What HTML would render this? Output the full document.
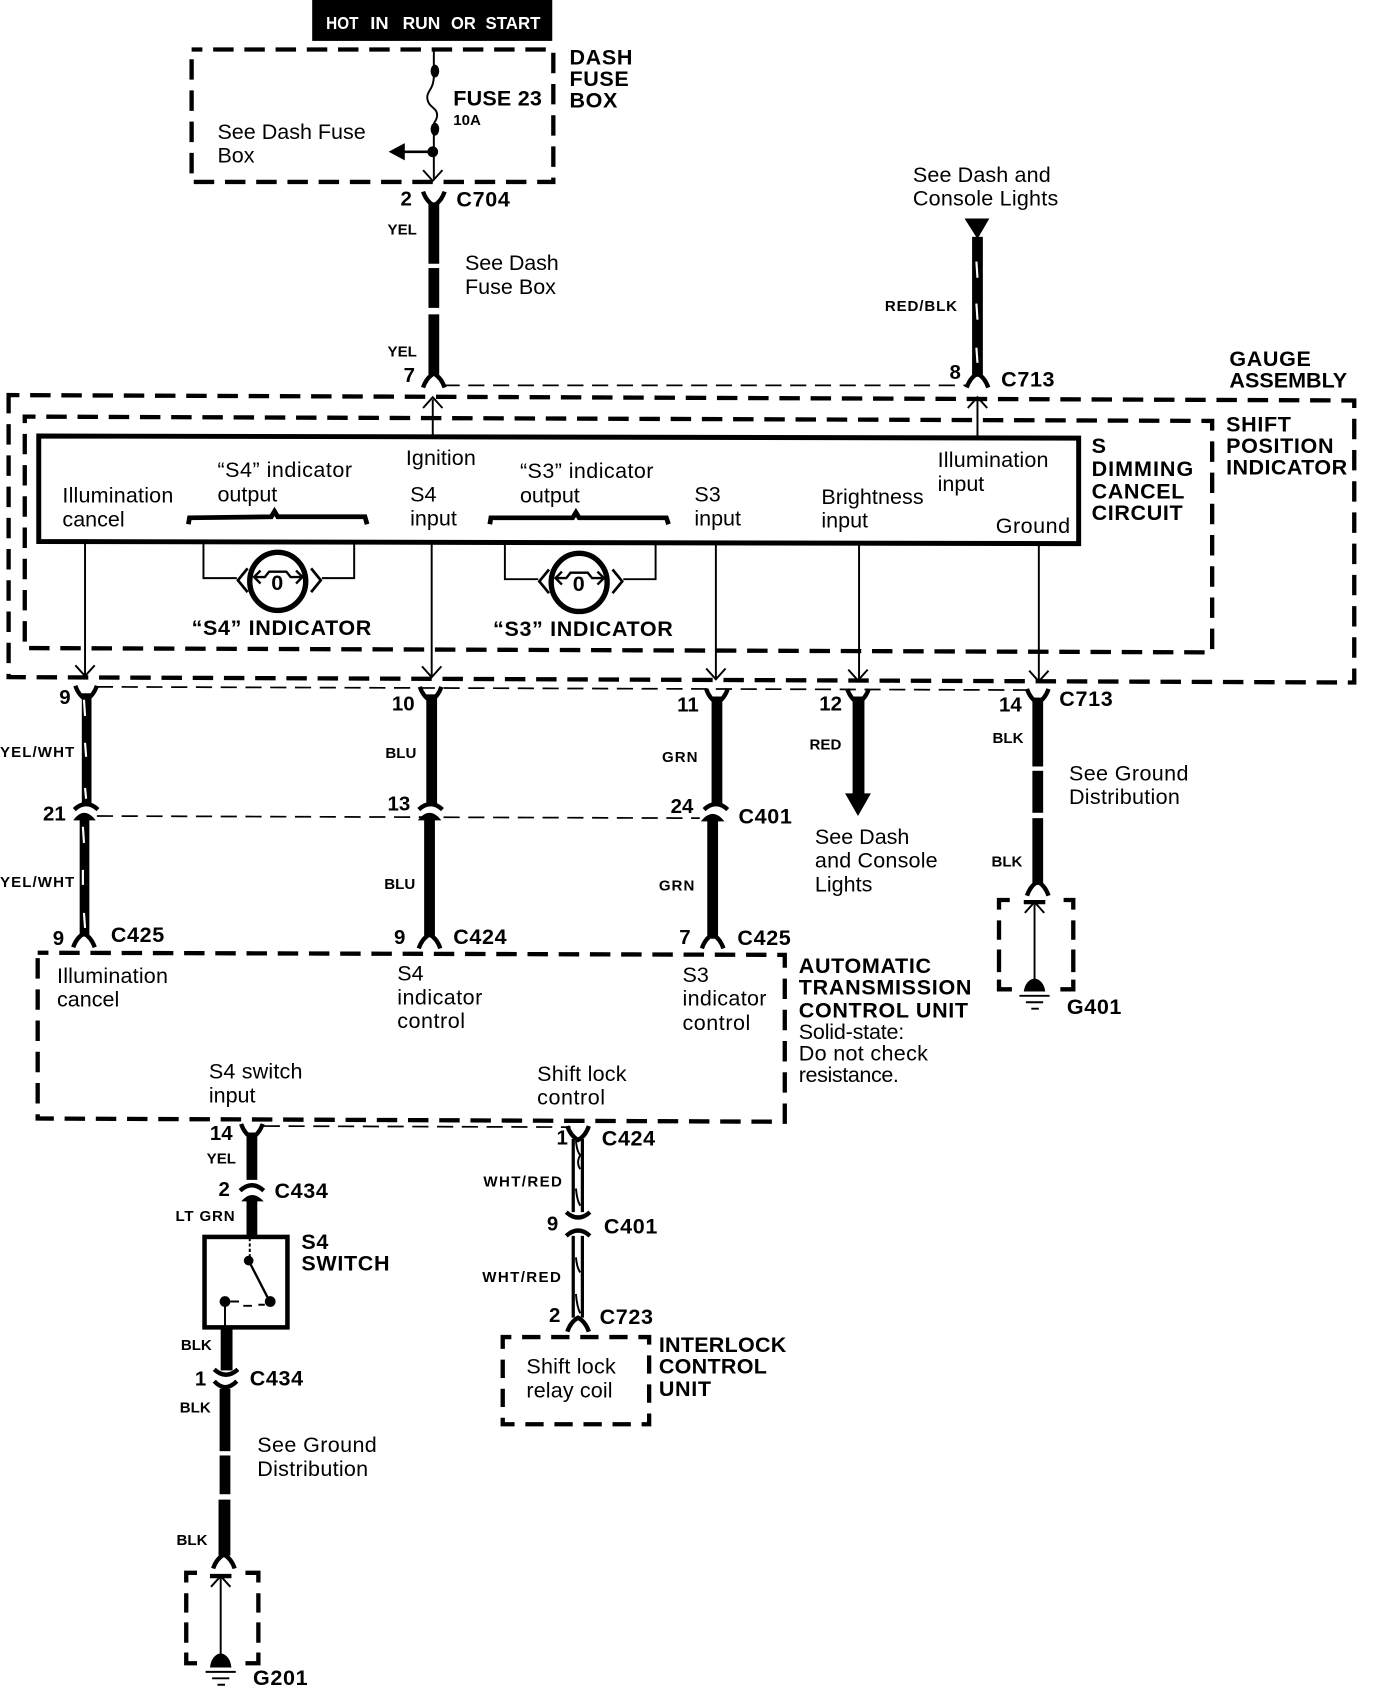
<!DOCTYPE html>
<html><head><meta charset="utf-8"><style>
html,body{margin:0;padding:0;background:#fff}
svg{display:block}
text{font-family:"Liberation Sans",sans-serif;fill:#000}
.r{font-size:20px}
.b{font-size:20px;font-weight:bold;letter-spacing:.6px}
.w{font-size:14px;font-weight:bold}
.n{font-size:19px;font-weight:bold}
.h{font-size:16.5px;font-weight:bold;fill:#fff}
.d{fill:none;stroke:#000;stroke-width:4;stroke-dasharray:19 10;stroke-dashoffset:9}
.t{fill:none;stroke:#000;stroke-width:1.6;stroke-dasharray:15 8}
.l{fill:none;stroke:#000;stroke-width:1.8}
.c{fill:none;stroke:#000;stroke-width:4}
.f{fill:#000;stroke:none}
.s{fill:none;stroke:#fff;stroke-width:2}
</style></head><body>
<svg xmlns="http://www.w3.org/2000/svg" width="1376" height="1688" viewBox="0 0 1278.2 1568" preserveAspectRatio="none">
<defs>
<path id="y" d="M-10,-8 Q-7,1 0,5 Q7,1 10,-8" fill="none" stroke="#000" stroke-width="4"/>
<path id="u" d="M-10,8 Q-7,-1 0,-5 Q7,-1 10,8" fill="none" stroke="#000" stroke-width="4"/>
<path id="v" d="M-9,-10 L0,0 L9,-10" fill="none" stroke="#000" stroke-width="1.8"/>
<path id="a" d="M-9,10 L0,0 L9,10" fill="none" stroke="#000" stroke-width="1.8"/>
<path id="m" d="M-11,5 Q0,-5 11,5" fill="none" stroke="#000" stroke-width="4"/>
<path id="n" d="M-11,-5 Q0,5 11,-5" fill="none" stroke="#000" stroke-width="4"/>
</defs>

<!-- header -->
<rect x="290" y="0" width="223" height="38" fill="#000"/>
<text class="h" x="303" y="27" textLength="30" lengthAdjust="spacingAndGlyphs">HOT</text>
<text class="h" x="344" y="27" textLength="17" lengthAdjust="spacingAndGlyphs">IN</text>
<text class="h" x="374" y="27" textLength="35" lengthAdjust="spacingAndGlyphs">RUN</text>
<text class="h" x="419" y="27" textLength="23" lengthAdjust="spacingAndGlyphs">OR</text>
<text class="h" x="451" y="27" textLength="51" lengthAdjust="spacingAndGlyphs">START</text>

<!-- dash fuse box -->
<rect x="178" y="46" width="336" height="123" class="d"/>
<path class="l" d="M403,46V62M403,70C403,84 396,84 397,92C398,100 407,100 406,108C405,114 403,112 403,116M403,124V166"/>
<ellipse cx="404" cy="66" rx="4" ry="6" class="f"/>
<ellipse cx="404" cy="120" rx="4" ry="6" class="f"/>
<circle cx="402" cy="141" r="5" class="f"/>
<path class="c" style="stroke-width:2.5" d="M402,141H372"/>
<polygon class="f" points="361,141 376,133 376,149"/>
<use href="#v" x="402" y="168"/>

<!-- wire C704-7 -->
<rect x="398" y="188" width="10" height="57" class="f"/>
<rect x="398" y="249" width="10" height="37" class="f"/>
<rect x="398" y="292" width="10" height="56" class="f"/>
<use href="#y" x="403" y="186"/>
<use href="#u" x="403" y="352"/>
<path class="t" d="M412,358 L898,358"/>

<!-- red/blk -->
<polygon class="f" points="896,203 919,203 908,222"/>
<rect x="903" y="220" width="10" height="130" class="f"/>
<path class="s" d="M907,243L908,258M907,282L908,297M907,323L908,337"/>
<use href="#u" x="908" y="352"/>

<!-- gauge assembly and shift position boxes -->
<path class="d" d="M8,367 L1258,372 L1258,634 L8,629 Z"/>
<path class="d" d="M23,387 L1126,391 L1126,606 L23,602 Z"/>
<path fill="none" stroke="#000" stroke-width="4.6" d="M36,405 L1002,407 L1002,505 L36,503 Z"/>

<!-- up feeds -->
<path class="l" d="M402,371V404"/><use href="#a" x="402" y="369"/>
<path class="l" d="M908,371V406"/><use href="#a" x="908" y="369"/>

<!-- signal lines -->
<path class="l" d="M79,504V628M401,505V629M665,505V631M798,506V631M965,506V632"/>
<use href="#v" x="79" y="628"/><use href="#v" x="401" y="629"/><use href="#v" x="665" y="631"/><use href="#v" x="797" y="632"/><use href="#v" x="965" y="633"/>

<!-- braces -->
<path fill="none" stroke="#000" stroke-width="4.4" d="M175,487 L176,481 L252,480 L255,475 L258,480 L339,480 L341,487"/>
<path fill="none" stroke="#000" stroke-width="4.4" d="M455,487 L456,481 L532,481 L535,476 L538,481 L619,481 L621,487"/>

<!-- S4 bulb -->
<g id="bulb">
<path class="l" d="M189,505V537H220M329,505V537H299"/>
<ellipse cx="258" cy="540" rx="26" ry="27" fill="none" stroke="#000" stroke-width="5"/>
<path fill="none" stroke="#000" stroke-width="2.5" d="M230,528L221,539L230,550M289,528L298,539L289,550"/>
<path fill="none" stroke="#000" stroke-width="2.2" d="M236,536H246L250,531H266L270,536H281M242,530L236,536L242,542M275,530L281,536L275,542"/>
<text x="252" y="548" style="font-size:20px;font-weight:bold">0</text>
</g>
<!-- S3 bulb -->
<g transform="translate(280,1)">
<path class="l" d="M189,505V537H220M329,505V537H299"/>
<ellipse cx="258" cy="540" rx="26" ry="27" fill="none" stroke="#000" stroke-width="5"/>
<path fill="none" stroke="#000" stroke-width="2.5" d="M230,528L221,539L230,550M289,528L298,539L289,550"/>
<path fill="none" stroke="#000" stroke-width="2.2" d="M236,536H246L250,531H266L270,536H281M242,530L236,536L242,542M275,530L281,536L275,542"/>
<text x="252" y="548" style="font-size:20px;font-weight:bold">0</text>
</g>

<!-- harness dashed -->
<path class="t" d="M90,638 L955,641"/>
<path class="t" d="M90,758 L650,760"/>

<!-- upper wires -->
<rect x="76" y="644" width="9" height="103" class="f"/>
<use href="#y" x="80" y="645"/><use href="#m" x="80" y="747"/>
<path class="s" d="M78,650L79,665M79,690L80,703M79,732L80,742"/>
<rect x="396" y="645" width="10" height="102" class="f"/>
<use href="#y" x="400" y="646"/><use href="#m" x="400" y="747"/>
<rect x="661" y="647" width="10" height="100" class="f"/>
<use href="#y" x="666" y="648"/><use href="#m" x="665" y="747"/>
<rect x="792" y="647" width="11" height="93" class="f"/>
<use href="#y" x="797" y="648"/>
<polygon class="f" points="785,737 809,737 797,758"/>
<rect x="959" y="648" width="10" height="64" class="f"/>
<rect x="959" y="716" width="10" height="39" class="f"/>
<rect x="959" y="760" width="10" height="62" class="f"/>
<use href="#y" x="964" y="648"/><use href="#u" x="964" y="824"/>

<!-- lower wires -->
<rect x="74" y="758" width="9" height="112" class="f"/>
<path fill="#000" d="M68,762 Q78,748 89,762Z"/>
<use href="#u" x="78" y="872"/>
<path class="s" d="M77,768L78,783M77,808L77,822M78,848L79,862"/>
<rect x="394" y="758" width="10" height="112" class="f"/>
<path fill="#000" d="M388,762 Q399,748 410,762Z"/>
<use href="#u" x="399" y="873"/>
<rect x="657" y="760" width="10" height="112" class="f"/>
<path fill="#000" d="M651,763 Q662,749 673,763Z"/>
<use href="#u" x="662" y="873"/>

<!-- G401 -->
<path class="c" d="M928,845V836H938M988,836H997V845M928,855V873M928,882V903M928,910V919H940M997,855V873M997,882V903M997,910V919H985"/>
<path class="l" d="M961,840V912"/><use href="#a" x="961" y="838"/>
<path class="c" d="M951,838H971"/>
<path class="f" d="M951,921 Q952,914 956,911 Q961,907 966,911 Q970,914 971,921Z"/>
<path class="l" d="M947,925H975M953,931H969M958,937H965"/>

<!-- ATCU -->
<path class="d" d="M35,885 L729,887 L729,1042 L35,1039 Z"/>
<path class="t" d="M245,1046 L530,1047"/>

<!-- S4 switch branch -->
<rect x="229" y="1052" width="10" height="44" class="f"/>
<use href="#y" x="234" y="1052"/><use href="#m" x="234" y="1101"/>
<path fill="#000" d="M224,1116 Q234,1104 245,1116Z"/>
<rect x="229" y="1112" width="10" height="38" class="f"/>
<rect x="190" y="1149" width="77" height="84" fill="none" stroke="#000" stroke-width="4.2"/>
<path class="l" stroke-dasharray="3 2" d="M232,1150V1170"/>
<circle cx="231" cy="1171" r="4.5" class="f"/>
<path class="c" style="stroke-width:2.2" d="M231,1171L249,1206"/>
<circle cx="251" cy="1209" r="5" class="f"/>
<circle cx="209" cy="1209" r="5" class="f"/>
<path class="l" d="M209,1209V1232M214,1209H222M226,1213H234M240,1212H246"/>
<rect x="205" y="1233" width="11" height="40" class="f"/>
<use href="#n" x="210" y="1277"/>
<path fill="none" stroke="#000" stroke-width="4" d="M199,1283 Q209,1294 220,1283"/>
<rect x="204" y="1290" width="10" height="58" class="f"/>
<rect x="204" y="1352" width="10" height="36" class="f"/>
<rect x="203" y="1393" width="11" height="52" class="f"/>
<use href="#u" x="208" y="1449"/>

<!-- G201 -->
<path class="c" d="M173,1470V1461H183M228,1461H240V1470M173,1480V1498M173,1507V1526M173,1535V1545H183M240,1480V1498M240,1507V1526M240,1535V1545H228"/>
<path class="l" d="M205,1466V1538"/><use href="#a" x="205" y="1464"/>
<path class="c" d="M195,1464H215"/>
<path class="f" d="M195,1549 Q196,1541 200,1538 Q205,1534 210,1538 Q214,1541 215,1549Z"/>
<path class="l" d="M191,1553H219M197,1559H213M202,1565H209"/>

<!-- WHT/RED -->
<use href="#y" x="537" y="1054"/>
<path fill="none" stroke="#000" stroke-width="3" d="M532.5,1058V1126M541,1058V1126M532.5,1148V1224M541,1148V1224"/>
<path class="l" d="M535,1060Q536,1070 539,1073Q535,1080 539,1086M535,1104Q536,1115 539,1120M535,1168Q536,1178 539,1182M535,1202Q536,1214 539,1220"/>
<use href="#n" x="537" y="1131"/><use href="#m" x="537" y="1143"/>
<use href="#u" x="537" y="1229"/>
<path class="d" style="stroke-dasharray:17 10" d="M467,1242H603V1323H467Z"/>

<!-- text: top -->
<text class="b" x="529" y="60">DASH</text><text class="b" x="529" y="80">FUSE</text><text class="b" x="529" y="100">BOX</text>
<text class="b" x="421" y="98" textLength="83">FUSE 23</text><text class="w" x="421" y="116">10A</text>
<text class="r" x="202" y="129">See Dash Fuse</text><text class="r" x="202" y="151">Box</text>
<text class="n" x="372" y="191">2</text><text class="b" x="424" y="192">C704</text>
<text class="w" x="360" y="218">YEL</text>
<text class="r" x="432" y="251" textLength="87">See Dash</text><text class="r" x="432" y="273">Fuse Box</text>
<text class="w" x="360" y="331">YEL</text><text class="n" x="375" y="355">7</text>
<text class="r" x="848" y="169" textLength="128">See Dash and</text><text class="r" x="848" y="191" textLength="135">Console Lights</text>
<text class="w" x="822" y="289" textLength="67">RED/BLK</text><text class="n" x="882" y="352">8</text><text class="b" x="930" y="359">C713</text>
<text class="b" x="1142" y="340">GAUGE</text><text class="b" x="1142" y="360" textLength="110">ASSEMBLY</text>
<text class="b" x="1139" y="401">SHIFT</text><text class="b" x="1139" y="421">POSITION</text><text class="b" x="1139" y="441" textLength="113">INDICATOR</text>
<text class="b" x="1014" y="421">S</text><text class="b" x="1014" y="442" textLength="95">DIMMING</text><text class="b" x="1014" y="463">CANCEL</text><text class="b" x="1014" y="483">CIRCUIT</text>

<!-- inner box labels -->
<text class="r" x="58" y="467" textLength="103">Illumination</text><text class="r" x="58" y="489">cancel</text>
<text class="r" x="202" y="443" textLength="125">“S4” indicator</text><text class="r" x="202" y="466">output</text>
<text class="r" x="377" y="432" textLength="65">Ignition</text><text class="r" x="381" y="466">S4</text><text class="r" x="381" y="488">input</text>
<text class="r" x="483" y="444" textLength="124">“S3” indicator</text><text class="r" x="483" y="467">output</text>
<text class="r" x="645" y="466">S3</text><text class="r" x="645" y="488">input</text>
<text class="r" x="763" y="468" textLength="95">Brightness</text><text class="r" x="763" y="490">input</text>
<text class="r" x="871" y="434" textLength="103">Illumination</text><text class="r" x="871" y="456">input</text>
<text class="r" x="925" y="495" textLength="69">Ground</text>
<text class="b" x="178" y="590">“S4” INDICATOR</text><text class="b" x="458" y="591">“S3” INDICATOR</text>

<!-- mid labels -->
<text class="n" x="55" y="654">9</text><text class="n" x="364" y="660">10</text><text class="n" x="629" y="661">11</text><text class="n" x="761" y="660">12</text><text class="n" x="928" y="661">14</text>
<text class="b" x="984" y="656">C713</text>
<text class="w" x="0" y="703" textLength="69">YEL/WHT</text><text class="w" x="358" y="704">BLU</text><text class="w" x="615" y="708" textLength="33">GRN</text><text class="w" x="752" y="696">RED</text><text class="w" x="922" y="690">BLK</text>
<text class="r" x="993" y="725" textLength="111">See Ground</text><text class="r" x="993" y="747" textLength="103">Distribution</text>
<text class="n" x="40" y="762">21</text><text class="n" x="360" y="753">13</text><text class="n" x="623" y="755">24</text><text class="b" x="686" y="765">C401</text>
<text class="w" x="0" y="824" textLength="69">YEL/WHT</text><text class="w" x="357" y="826">BLU</text><text class="w" x="612" y="827" textLength="33">GRN</text>
<text class="r" x="757" y="784">See Dash</text><text class="r" x="757" y="806" textLength="114">and Console</text><text class="r" x="757" y="828">Lights</text>
<text class="w" x="921" y="805">BLK</text>
<text class="n" x="49" y="878">9</text><text class="b" x="103" y="875">C425</text><text class="n" x="366" y="877">9</text><text class="b" x="421" y="877">C424</text><text class="n" x="631" y="877">7</text><text class="b" x="685" y="878">C425</text>
<text class="b" x="991" y="942">G401</text>
<text class="b" x="742" y="904">AUTOMATIC</text><text class="b" x="742" y="924" textLength="161">TRANSMISSION</text><text class="b" x="742" y="945">CONTROL UNIT</text>
<text class="r" x="742" y="965" textLength="98">Solid-state:</text><text class="r" x="742" y="985" textLength="120">Do not check</text><text class="r" x="742" y="1005" textLength="93">resistance.</text>
<text class="r" x="53" y="913" textLength="103">Illumination</text><text class="r" x="53" y="935">cancel</text>
<text class="r" x="369" y="911">S4</text><text class="r" x="369" y="933" textLength="79">indicator</text><text class="r" x="369" y="955" textLength="63">control</text>
<text class="r" x="634" y="912">S3</text><text class="r" x="634" y="934" textLength="78">indicator</text><text class="r" x="634" y="957" textLength="63">control</text>
<text class="r" x="194" y="1002" textLength="87">S4 switch</text><text class="r" x="194" y="1024">input</text>
<text class="r" x="499" y="1004" textLength="83">Shift lock</text><text class="r" x="499" y="1026" textLength="63">control</text>

<!-- bottom labels -->
<text class="n" x="195" y="1059">14</text><text class="w" x="192" y="1081">YEL</text><text class="n" x="203" y="1111">2</text><text class="b" x="255" y="1113">C434</text>
<text class="w" x="163" y="1134" textLength="55">LT GRN</text><text class="b" x="280" y="1160">S4</text><text class="b" x="280" y="1180">SWITCH</text>
<text class="w" x="168" y="1254">BLK</text><text class="n" x="181" y="1287">1</text><text class="b" x="232" y="1287">C434</text><text class="w" x="167" y="1312">BLK</text>
<text class="r" x="239" y="1349" textLength="111">See Ground</text><text class="r" x="239" y="1371" textLength="103">Distribution</text>
<text class="w" x="164" y="1435">BLK</text><text class="b" x="235" y="1565">G201</text>
<text class="n" x="517" y="1063">1</text><text class="b" x="559" y="1064">C424</text><text class="w" x="449" y="1102" textLength="73">WHT/RED</text>
<text class="n" x="508" y="1143">9</text><text class="b" x="561" y="1146">C401</text><text class="w" x="448" y="1191" textLength="73">WHT/RED</text>
<text class="n" x="510" y="1228">2</text><text class="b" x="557" y="1230">C723</text>
<text class="b" x="612" y="1256" textLength="119">INTERLOCK</text><text class="b" x="612" y="1276" textLength="101">CONTROL</text><text class="b" x="612" y="1297">UNIT</text>
<text class="r" x="489" y="1276" textLength="83">Shift lock</text><text class="r" x="489" y="1298" textLength="80">relay coil</text>
</svg>
</body></html>
